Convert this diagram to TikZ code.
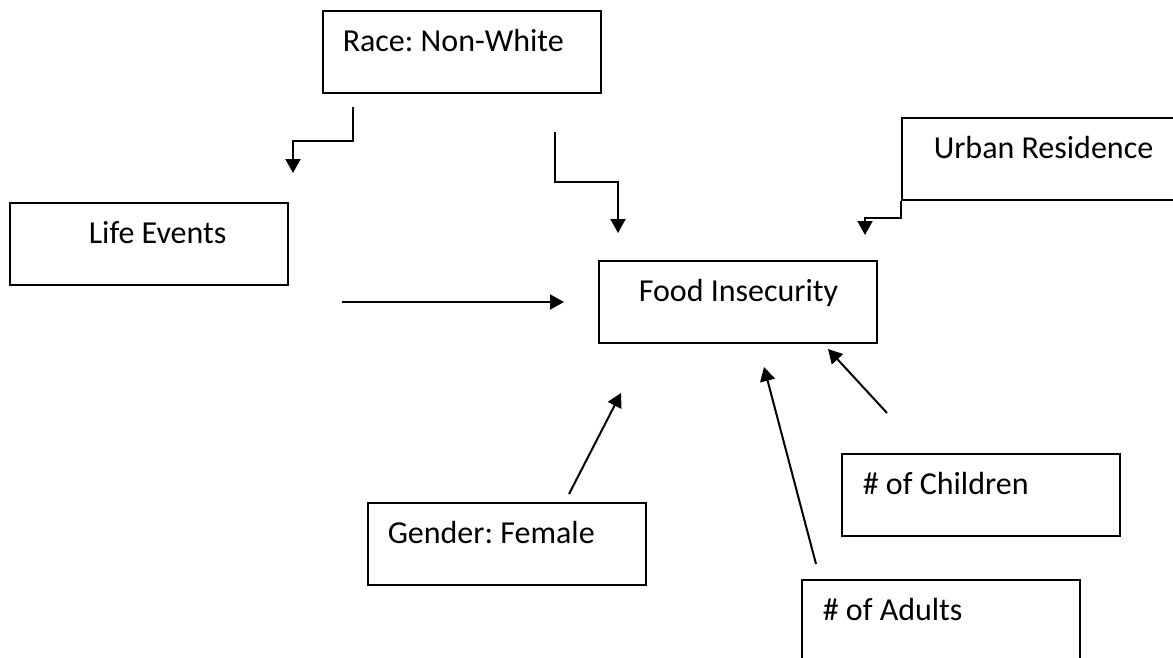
\documentclass[tikz,border=0pt]{standalone}
\usepackage{fontspec}
\setmainfont{Carlito}
\usetikzlibrary{arrows.meta}
\frenchspacing

\begin{document}
\begin{tikzpicture}[x=1pt,y=-1pt,line width=2pt,-{Triangle[length=14pt,width=15pt]}]
    \tikzstyle{box}=[draw,-,line width=1.5pt,anchor=north west,inner sep=0pt,text width=278pt,align=flush left,
        text height=41pt,text depth=41pt,font=\fontsize{32}{38}\selectfont]
    \useasboundingbox (0,0) rectangle (1173,657);
    \clip (0,0) rectangle (1173,657);

    \foreach \name/\x/\y/\pad/\txt in {race/322/10/20/Race: Non-White, life/9/202/79/Life Events,
            urban/901/117/32/Urban Residence, food/598/260/40/Food Insecurity,
            kids/841/453/21/\# of Children, gender/367/502/20/Gender: Female, adults/801/579/21/\# of Adults}
        \node[box] (\name) at (\x,\y) {\hspace*{\pad pt}\txt};

    \foreach \name/\x/\y in {r1/353/107, r2/555/132, l1/293/173, f1/618/233, f2/865/235,
            l2/342/302, f3/564/302, g1/569/494, f4/621/393, a1/816/564, f5/764/367, k1/887/413, f6/828/349}
        \coordinate (\name) at (\x,\y);

    \draw (r1) -- ++(0,34) -| (l1);
    \draw (r2) -- ++(0,50) -| (f1);
    \draw (urban.south west) -- ++(0,17) -| (f2);
    \foreach \from/\to in {l2/f3, g1/f4, a1/f5, k1/f6}
        \draw (\from) -- (\to);
\end{tikzpicture}
\end{document}
